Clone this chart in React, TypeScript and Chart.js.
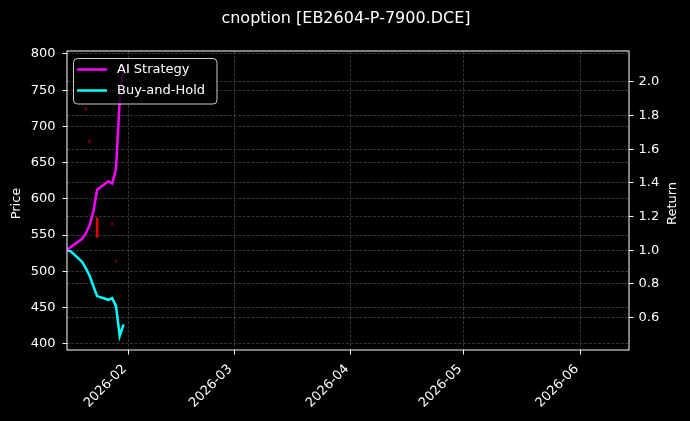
import { useEffect, useRef } from 'react';
import { Chart, registerables } from 'chart.js';

Chart.register(...registerables);

const TITLE = 'cnoption [EB2604-P-7900.DCE]';

// trading days shown by the two return lines
const dates = [
  '2026-01-15', '2026-01-16', '2026-01-19', '2026-01-20', '2026-01-21', '2026-01-22',
  '2026-01-23', '2026-01-26', '2026-01-27', '2026-01-28', '2026-01-29', '2026-01-30',
];
const aiStrategy = [1.0, 1.02, 1.068, 1.1, 1.15, 1.23, 1.36, 1.41, 1.396, 1.48, 1.89, 2.1];
const buyHold = [1.0, 0.994, 0.932, 0.893, 0.849, 0.787, 0.728, 0.706, 0.716, 0.67, 0.491, 0.56];

// the few price marks that are visible (left axis)
const priceDates = ['2026-01-20', '2026-01-21', '2026-01-23', '2026-01-27', '2026-01-28'];
const priceLow = [722, 677, 547, 564, 513];
const priceHigh = [726, 681, 574, 567, 516];

const priceTicks = [400, 450, 500, 550, 600, 650, 700, 750, 800];
const returnTicks = [0.6, 0.8, 1.0, 1.2, 1.4, 1.6, 1.8, 2.0];
const monthTicks = ['2026-02-01', '2026-03-01', '2026-04-01', '2026-05-01', '2026-06-01'];

const T0 = Date.UTC(2026, 0, 1);
const DAY = 86400000;
const toDay = (s: string) => (Date.parse(s + 'T00:00:00Z') - T0) / DAY;
const CLOSE = 0.625; // 15:00

const FONT = 'DejaVu Sans';
const GRID = 'rgba(255,255,255,0.25)';

const decor = {
  id: 'decor',
  beforeDraw(chart: any) {
    const { ctx, width, height } = chart;
    ctx.save();
    ctx.fillStyle = '#000';
    ctx.fillRect(0, 0, width, height);
    ctx.restore();
  },
  afterDraw(chart: any) {
    const { ctx, chartArea: a } = chart;
    ctx.save();
    // frame
    ctx.strokeStyle = '#fff';
    ctx.lineWidth = 1;
    ctx.strokeRect(a.left, a.top, a.right - a.left, a.bottom - a.top);

    // title
    ctx.fillStyle = '#fff';
    ctx.font = `16px "${FONT}"`;
    ctx.textAlign = 'center';
    ctx.textBaseline = 'middle';
    ctx.fillText(TITLE, 346, 19);

    // axis titles
    ctx.font = `13px "${FONT}"`;
    const mid = (a.top + a.bottom) / 2 + 3;
    ctx.save();
    ctx.translate(17, mid);
    ctx.rotate(-Math.PI / 2);
    ctx.fillText('Price', 0, 0);
    ctx.restore();
    ctx.save();
    ctx.translate(673, mid);
    ctx.rotate(-Math.PI / 2);
    ctx.fillText('Return', 0, 0);
    ctx.restore();

    // legend
    const lx = 73.5, ly = 58.5, lw = 143.5, lh = 45.5;
    ctx.beginPath();
    ctx.roundRect(lx, ly, lw, lh, 4);
    ctx.fillStyle = 'rgba(0,0,0,0.8)';
    ctx.fill();
    ctx.strokeStyle = 'rgba(255,255,255,0.8)';
    ctx.lineWidth = 1;
    ctx.stroke();
    const items = chart.data.datasets.filter((d: any) => d.type === 'line');
    items.forEach((d: any, i: number) => {
      const y = 69.5 + i * 21;
      ctx.strokeStyle = d.borderColor;
      ctx.lineWidth = 2.5;
      ctx.beginPath();
      ctx.moveTo(77, y);
      ctx.lineTo(107, y);
      ctx.stroke();
      ctx.fillStyle = '#fff';
      ctx.textAlign = 'left';
      ctx.textBaseline = 'middle';
      ctx.fillText(d.label, 117, y + 0.5);
    });
    ctx.restore();
  },
};

const axisGrid = { color: GRID, lineWidth: 0.8, tickColor: '#fff', tickLength: 4.5, tickWidth: 1, offset: false };

export default function App() {
  const canvasRef = useRef<HTMLCanvasElement>(null);

  useEffect(() => {
    if (!canvasRef.current) return;
    const chart = new Chart(canvasRef.current, {
      type: 'line',
      data: {
        datasets: [
          {
            type: 'line',
            label: 'AI Strategy',
            data: dates.map((d, i) => ({ x: toDay(d) + CLOSE, y: aiStrategy[i] })),
            borderColor: '#ff00ff',
            borderWidth: 2.5,
            pointRadius: 0,
            yAxisID: 'y1',
          },
          {
            type: 'line',
            label: 'Buy-and-Hold',
            data: dates.map((d, i) => ({ x: toDay(d) + CLOSE, y: buyHold[i] })),
            borderColor: '#00ffff',
            borderWidth: 2.5,
            pointRadius: 0,
            yAxisID: 'y1',
          },
          {
            type: 'bar',
            label: 'Price',
            data: priceDates.map((d, i) => ({ x: toDay(d) + CLOSE, y: [priceLow[i], priceHigh[i]] })),
            backgroundColor: (c: any) => {
              const v = c.raw && c.raw.y;
              return v && v[1] - v[0] > 10 ? '#e00000' : 'rgba(150,0,0,0.7)';
            },
            barThickness: 2,
            yAxisID: 'y',
          } as any,
        ],
      },
      options: {
        animation: false,
        responsive: true,
        maintainAspectRatio: false,
        layout: { padding: { top: 51, left: 0, right: 0, bottom: 0 } },
        plugins: {
          legend: { display: false },
          tooltip: { enabled: false },
        },
        scales: {
          x: {
            type: 'linear',
            min: 14.625,
            max: 163.85,
            offset: false,
            afterBuildTicks: (s: any) => {
              s.ticks = monthTicks.map((m) => ({ value: toDay(m) }));
            },
            afterFit: (s: any) => {
              s.height = 71;
            },
            ticks: {
              color: '#fff',
              font: { family: FONT, size: 13 },
              maxRotation: 45,
              minRotation: 45,
              padding: 7,
              labelOffset: -4,
              autoSkip: false,
              callback: (v: any) => {
                const d = new Date(T0 + Number(v) * DAY);
                return `${d.getUTCFullYear()}-${String(d.getUTCMonth() + 1).padStart(2, '0')}`;
              },
            },
            grid: axisGrid,
            border: { display: false, dash: [3, 1.5] },
          },
          y: {
            type: 'linear',
            position: 'left',
            min: 391.5,
            max: 804,
            afterBuildTicks: (s: any) => {
              s.ticks = priceTicks.map((v) => ({ value: v }));
            },
            afterFit: (s: any) => {
              s.width = 67;
            },
            ticks: { color: '#fff', font: { family: FONT, size: 13 }, padding: 7 },
            grid: axisGrid,
            border: { display: false, dash: [3, 1.5] },
          },
          y1: {
            type: 'linear',
            position: 'right',
            min: 0.408,
            max: 2.183,
            afterBuildTicks: (s: any) => {
              s.ticks = returnTicks.map((v) => ({ value: v }));
            },
            afterFit: (s: any) => {
              s.width = 61;
            },
            ticks: {
              color: '#fff',
              font: { family: FONT, size: 13 },
              padding: 5,
              callback: (v: any) => Number(v).toFixed(1),
            },
            grid: axisGrid,
            border: { display: false, dash: [3, 1.5] },
          },
        },
      },
      plugins: [decor],
    });
    return () => chart.destroy();
  }, []);

  return (
    <div style={{ position: 'fixed', left: 0, top: 0, width: 690, height: 421, background: '#000' }}>
      <canvas ref={canvasRef} />
    </div>
  );
}
